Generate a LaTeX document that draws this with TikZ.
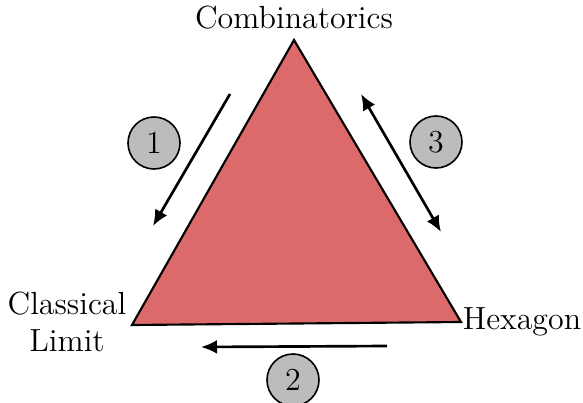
\documentclass[tikz,border=0pt]{standalone}
\usetikzlibrary{arrows.meta}
\definecolor{triRed}{RGB}{220,106,106}
\definecolor{markGray}{RGB}{188,188,188}
\tikzset{
    cornerlabel/.style={font=\large, align=center},
    stepmark/.style={
        circle,
        draw=black,
        line width=0.6pt,
        fill=markGray,
        minimum size=19.5pt,
        inner sep=0pt,
        font=\large
    },
    movearrow/.style={
        line width=1pt,
        -{Latex[length=6pt, width=5.2pt]}
    }
}

\begin{document}
\begin{tikzpicture}[x=0.375pt, y=-0.375pt]
\useasboundingbox (0,0) rectangle (583,403);

% triangle corners
\coordinate (top) at (294,40);
\coordinate (left) at (132,325);
\coordinate (right) at (461,322);
\filldraw[fill=triRed, draw=black, line width=0.8pt, line join=miter] (top) -- (left) -- (right) -- cycle;

% corner labels
\node[cornerlabel] (comb) at (294,18) {Combinatorics};
\node[cornerlabel] (classic) at (67,322) {Classical\\Limit};
\node[cornerlabel] (hex) at (522,322) {Hexagon};

% arrow ends
\coordinate (a1s) at (230,94);
\coordinate (a1e) at (153,226);
\coordinate (a2s) at (387,346);
\coordinate (a2e) at (201,347);
\coordinate (a3s) at (361,94);
\coordinate (a3e) at (441,232);

\draw[movearrow] (a1s) -- (a1e);
\draw[movearrow] (a2s) -- (a2e);
\draw[movearrow, {Latex[length=6pt, width=5.2pt]}-{Latex[length=6pt, width=5.2pt]}] (a3s) -- (a3e);

% step numbers
\node[stepmark] (s1) at (154,143) {1};
\node[stepmark] (s2) at (293,380) {2};
\node[stepmark] (s3) at (436,142) {3};

\end{tikzpicture}
\end{document}
